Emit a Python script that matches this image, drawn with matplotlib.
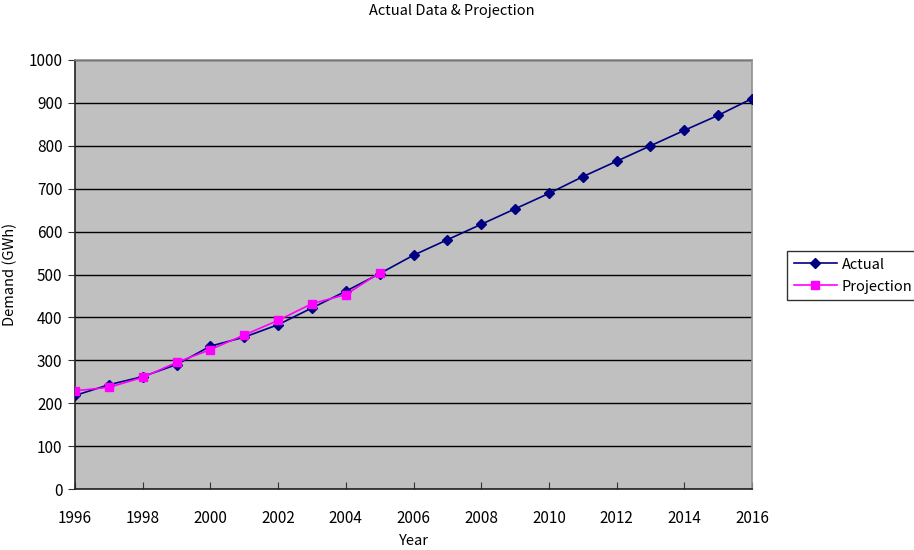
import matplotlib
matplotlib.use("Agg")
import matplotlib.pyplot as plt

plt.rcParams['font.family'] = ['Noto Sans CJK JP', 'DejaVu Sans']

years_actual = list(range(1996, 2017))
actual = [218, 243, 262, 290, 333, 354, 383, 422, 461, 502,
          545, 581, 617, 653, 689, 728, 764, 800, 836, 871, 910]

years_proj = list(range(1996, 2006))
projection = [229, 237, 260, 295, 325, 359, 393, 432, 453, 504]

x_ticks = list(range(1996, 2017, 2))
y_ticks = list(range(0, 1001, 100))

W, H = 914, 550
fig = plt.figure(figsize=(W / 100, H / 100), dpi=100)
ax = fig.add_axes([75 / W, 1 - 489 / H, (752 - 75) / W, (489 - 60) / H])
ax.set_facecolor('#C0C0C0')

ax.plot(years_actual, actual, color='#000080', marker='D', markersize=5.5,
        linewidth=1.2, label='Actual', zorder=3)
ax.plot(years_proj, projection, color='#FF00FF', marker='s', markersize=6,
        linewidth=1.2, label='Projection', zorder=4)

ax.set_xlim(1996, 2016)
ax.set_ylim(0, 1000)
ax.set_xticks(x_ticks)
ax.set_yticks(y_ticks)
ax.tick_params(axis='x', direction='in', length=5, labelsize=11, pad=15, color='#333333')
ax.tick_params(axis='y', direction='out', length=5, labelsize=11, pad=4, color='#333333')

ax.yaxis.grid(True, color='black', linewidth=1.0)
ax.set_axisbelow(True)

for side in ('top', 'right'):
    ax.spines[side].set_color('#909090')
    ax.spines[side].set_linewidth(1.2)
for side in ('left', 'bottom'):
    ax.spines[side].set_color('#222222')
    ax.spines[side].set_linewidth(1.2)

ax.set_xlabel('Year', fontsize=10.5, labelpad=5)
ax.set_ylabel('Demand (GWh)', fontsize=10.5, labelpad=8)
fig.text(452 / W, 1 - 11 / H, 'Actual Data & Projection',
         ha='center', va='center', fontsize=10.5)

leg = ax.legend(loc='upper left', bbox_to_anchor=(787 / W, 1 - 251 / H),
                bbox_transform=fig.transFigure, frameon=True, fancybox=False,
                fontsize=10.5, borderpad=0.45, handlelength=3, labelspacing=0.55,
                handletextpad=0.3, borderaxespad=0)
leg.get_frame().set_edgecolor('black')
leg.get_frame().set_linewidth(1.0)

fig.savefig('out.png', dpi=100)
